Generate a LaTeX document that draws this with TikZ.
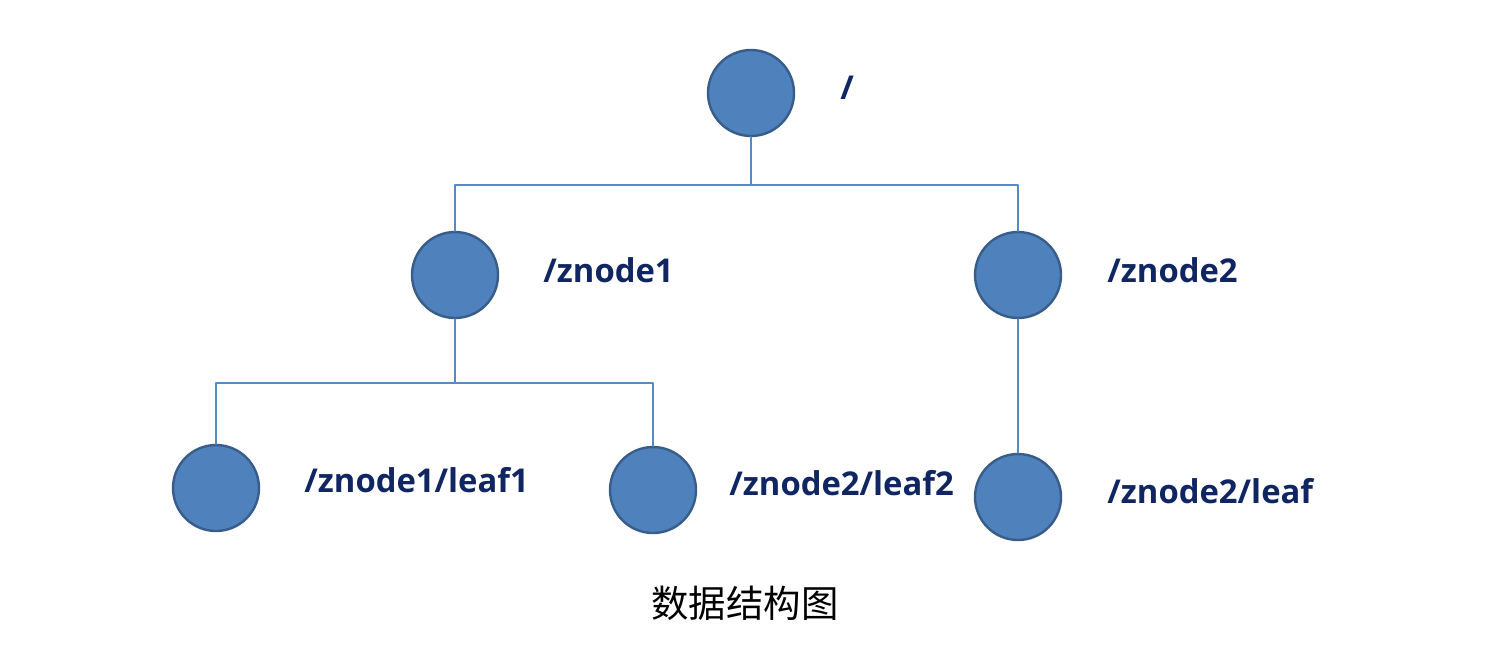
\documentclass[tikz,border=0pt]{standalone}
\usepackage{fontspec}
\newfontfamily\labelfont{Open Sans}
\newfontfamily\cjk{Noto Sans CJK SC}
\definecolor{Nfill}{RGB}{79,129,189}
\definecolor{Ndraw}{RGB}{56,93,138}
\definecolor{Lline}{RGB}{85,138,200}
\definecolor{Ltext}{RGB}{16,38,98}
\begin{document}
\begin{tikzpicture}[x=0.5pt,y=-0.5pt,line cap=round,line join=round,
  znode/.style={circle,draw=Ndraw,line width=1.2pt,fill=Nfill,minimum size=43pt,inner sep=0pt},
  zpath/.style={anchor=west,text=Ltext,inner sep=0pt,font=\labelfont\bfseries\fontsize{16.4}{20}\selectfont},
  link/.style={draw=Lline,line width=1pt}]
\path[use as bounding box] (0,0) rectangle (1486,644);
\node[znode] (root) at (751,93) {};
\node[znode] (z1) at (455,275) {};
\node[znode] (z2) at (1018,275) {};
\node[znode] (l1) at (216,488) {};
\node[znode] (l2) at (653,490) {};
\node[znode] (l3) at (1018,497) {};
\coordinate (rj) at (751,185);
\coordinate (zj) at (455,383);
\path[link] (root.south) -- (rj) -| (z1.north);
\path[link] (rj) -| (z2.north);
\path[link] (z1.south) -- (zj) -| (l1.north);
\path[link] (zj) -| (l2.north);
\path[link] (z2.south) -- (l3.north);
\node[zpath] (t0) at (840,88) {/};
\node[zpath] (t1) at (543,270) {/znode1};
\node[zpath] (t2) at (1107,270) {/znode2};
\node[zpath] (t3) at (304,480) {/znode1/leaf1};
\node[zpath] (t4) at (729,483) {/znode2/leaf2};
\node[zpath] (t5) at (1107,491) {/znode2/leaf};
\node[font=\cjk\fontsize{18.7}{20}\selectfont] (cap) at (745,603) {数据结构图};
\end{tikzpicture}
\end{document}
